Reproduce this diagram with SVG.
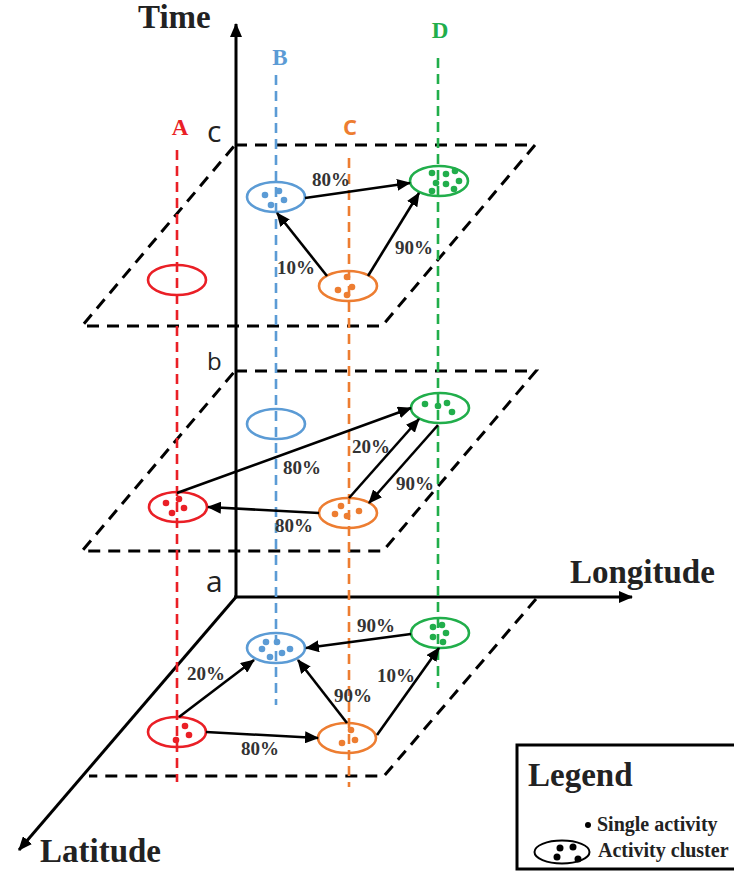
<svg xmlns="http://www.w3.org/2000/svg" width="734" height="880" viewBox="0 0 734 880">
<style>
.axis{stroke:#000;stroke-width:3;fill:none}
.plane{stroke:#000;stroke-width:3;fill:none;stroke-dasharray:12 8}
.track{stroke-width:2.6;fill:none;stroke-dasharray:10 6}
.conn{stroke:#000;stroke-width:2.6;fill:none}
.ell{fill:none;stroke-width:2.6}
.title{font-family:"Liberation Serif",serif;font-weight:bold;font-size:33px;fill:#222}
.tl{font-family:"Liberation Serif",serif;font-weight:bold;font-size:23px}
.pct{font-family:"Liberation Serif",serif;font-weight:bold;font-size:19px;fill:#333}
.lvl{font-family:"Open Sans","Liberation Sans",sans-serif;fill:#222}
.leg{font-family:"Liberation Serif",serif;font-weight:bold;font-size:20px;fill:#222}
.r{stroke:#ea1f26}.rf{fill:#ea1f26}
.b{stroke:#5b9bd5}.bf{fill:#5b9bd5}
.o{stroke:#ed7d31}.of{fill:#ed7d31}
.g{stroke:#21ae4b}.gf{fill:#21ae4b}
</style>
<defs>
<marker id="ah" markerUnits="userSpaceOnUse" markerWidth="14" markerHeight="12" viewBox="0 0 14 12" refX="13" refY="6" orient="auto">
<path d="M0,0 L14,6 L0,12 z" fill="#000"/>
</marker>
</defs>
<rect width="734" height="880" fill="#fff"/>

<g id="planes">
<path class="plane" d="M235,145 L535,145 L382,326 L82,326 Z"/>
<path class="plane" d="M235,371 L536,371 L383,551 L82,551 Z"/>
<path class="plane" d="M536,599 L384,776 L89,776"/>
</g>

<g id="axes">
<line class="axis" x1="236" y1="598" x2="236" y2="24" marker-end="url(#ah)"/>
<line class="axis" x1="234" y1="597" x2="632" y2="597" marker-end="url(#ah)"/>
<line class="axis" x1="236" y1="597" x2="19" y2="850" marker-end="url(#ah)"/>
<text class="title" x="138" y="28">Time</text>
<text class="title" x="570" y="583">Longitude</text>
<text class="title" x="40" y="862">Latitude</text>
<text class="lvl" x="207" y="142" font-size="30">c</text>
<text class="lvl" x="207" y="370" font-size="24">b</text>
<text class="lvl" x="206" y="592" font-size="30">a</text>
</g>

<g id="tracks">
<line class="track r" x1="177" y1="150" x2="177" y2="782"/>
<line class="track b" x1="276" y1="75" x2="276" y2="705"/>
<line class="track o" x1="349" y1="158" x2="349" y2="787"/>
<line class="track g" x1="438" y1="58" x2="438" y2="688"/>
<text class="tl rf" x="180" y="135" text-anchor="middle">A</text>
<text class="tl bf" x="280" y="65" text-anchor="middle">B</text>
<text x="350" y="135" text-anchor="middle" font-family="Open Sans, Liberation Sans, sans-serif" font-weight="bold" font-size="22" fill="#ed7d31">C</text>
<text class="tl gf" x="440" y="38" text-anchor="middle">D</text>
</g>

<!-- layer c -->
<g id="c-A"><ellipse class="ell r" cx="177" cy="280" rx="29" ry="15"/></g>
<g id="c-B"><ellipse class="ell b" cx="276" cy="197" rx="29" ry="15"/>
<g class="bf"><circle cx="265" cy="195" r="3.3"/><circle cx="279" cy="191" r="3.3"/><circle cx="284" cy="200" r="3.3"/><circle cx="271" cy="205" r="3.3"/></g></g>
<g id="c-C"><ellipse class="ell o" cx="348" cy="286" rx="29" ry="15"/>
<g class="of"><circle cx="347" cy="277" r="3.3"/><circle cx="352" cy="287" r="3.3"/><circle cx="338" cy="290" r="3.3"/><circle cx="347" cy="295" r="3.3"/></g></g>
<g id="c-D"><ellipse class="ell g" cx="439" cy="181" rx="29" ry="15"/>
<g class="gf"><circle cx="432" cy="173" r="3.3"/><circle cx="446" cy="174" r="3.3"/><circle cx="455" cy="171" r="3.3"/><circle cx="436" cy="183" r="3.3"/><circle cx="446" cy="184" r="3.3"/><circle cx="459" cy="181" r="3.3"/><circle cx="432" cy="191" r="3.3"/><circle cx="454" cy="189" r="3.3"/></g></g>

<!-- layer b -->
<g id="b-A"><ellipse class="ell r" cx="178" cy="507" rx="29" ry="15"/>
<g class="rf"><circle cx="166" cy="503" r="3.3"/><circle cx="179" cy="499" r="3.3"/><circle cx="184" cy="508" r="3.3"/><circle cx="172" cy="513" r="3.3"/></g></g>
<g id="b-B"><ellipse class="ell b" cx="276" cy="424" rx="29" ry="15"/></g>
<g id="b-C"><ellipse class="ell o" cx="348" cy="513" rx="29" ry="15"/>
<g class="of"><circle cx="341" cy="506" r="3.3"/><circle cx="359" cy="511" r="3.3"/><circle cx="335" cy="514" r="3.3"/><circle cx="347" cy="516" r="3.3"/></g></g>
<g id="b-D"><ellipse class="ell g" cx="440" cy="408" rx="29" ry="15"/>
<g class="gf"><circle cx="425" cy="404" r="3.3"/><circle cx="438" cy="406" r="3.3"/><circle cx="447" cy="403" r="3.3"/><circle cx="452" cy="412" r="3.3"/></g></g>

<!-- layer a -->
<g id="a-A"><ellipse class="ell r" cx="177" cy="732" rx="29" ry="15"/>
<g class="rf"><circle cx="185" cy="726" r="3.3"/><circle cx="189" cy="735" r="3.3"/><circle cx="176" cy="740" r="3.3"/></g></g>
<g id="a-B"><ellipse class="ell b" cx="276" cy="648" rx="29" ry="15"/>
<g class="bf"><circle cx="266" cy="642" r="3.3"/><circle cx="277" cy="642" r="3.3"/><circle cx="262" cy="649" r="3.3"/><circle cx="282" cy="653" r="3.3"/><circle cx="290" cy="649" r="3.3"/><circle cx="270" cy="657" r="3.3"/></g></g>
<g id="a-C"><ellipse class="ell o" cx="347" cy="738" rx="29" ry="15"/>
<g class="of"><circle cx="351" cy="730" r="3.3"/><circle cx="342" cy="743" r="3.3"/><circle cx="355" cy="740" r="3.3"/></g></g>
<g id="a-D"><ellipse class="ell g" cx="440" cy="633" rx="29" ry="15"/>
<g class="gf"><circle cx="433" cy="627" r="3.3"/><circle cx="442" cy="625" r="3.3"/><circle cx="446" cy="633" r="3.3"/><circle cx="433" cy="637" r="3.3"/><circle cx="443" cy="642" r="3.3"/></g></g>

<g id="connectors">
<line class="conn" x1="305" y1="198" x2="410" y2="183" marker-end="url(#ah)"/>
<line class="conn" x1="327" y1="276" x2="277" y2="213" marker-end="url(#ah)"/>
<line class="conn" x1="368" y1="276" x2="419" y2="193" marker-end="url(#ah)"/>
<line class="conn" x1="177" y1="493" x2="411" y2="408" marker-end="url(#ah)"/>
<line class="conn" x1="319" y1="513" x2="208" y2="507" marker-end="url(#ah)"/>
<line class="conn" x1="349" y1="498" x2="419" y2="419" marker-end="url(#ah)"/>
<line class="conn" x1="438" y1="425" x2="369" y2="503" marker-end="url(#ah)"/>
<line class="conn" x1="179" y1="717" x2="254" y2="660" marker-end="url(#ah)"/>
<line class="conn" x1="206" y1="732" x2="318" y2="738" marker-end="url(#ah)"/>
<line class="conn" x1="347" y1="723" x2="298" y2="660" marker-end="url(#ah)"/>
<line class="conn" x1="377" y1="735" x2="439" y2="648" marker-end="url(#ah)"/>
<line class="conn" x1="411" y1="634" x2="306" y2="648" marker-end="url(#ah)"/>
</g>

<g id="labels">
<text class="pct" x="312" y="186">80%</text>
<text class="pct" x="277" y="274">10%</text>
<text class="pct" x="395" y="254">90%</text>
<text class="pct" x="283" y="474">80%</text>
<text class="pct" x="275" y="532">80%</text>
<text class="pct" x="352" y="453">20%</text>
<text class="pct" x="396" y="490">90%</text>
<text class="pct" x="187" y="680">20%</text>
<text class="pct" x="241" y="755">80%</text>
<text class="pct" x="334" y="702">90%</text>
<text class="pct" x="377" y="682">10%</text>
<text class="pct" x="357" y="632">90%</text>
</g>

<g id="legend">
<rect x="517" y="745" width="240" height="124" fill="#fff" stroke="#000" stroke-width="3"/>
<text class="title" x="528" y="786" font-size="32">Legend</text>
<circle cx="588" cy="825" r="3" fill="#000"/>
<text class="leg" x="597" y="831">Single activity</text>
<ellipse cx="562" cy="852" rx="27.5" ry="11.5" fill="none" stroke="#000" stroke-width="2"/>
<circle cx="560" cy="848" r="3.5" fill="#000"/><circle cx="573" cy="847" r="3.5" fill="#000"/><circle cx="557" cy="857" r="3.5" fill="#000"/><circle cx="578" cy="859" r="3.5" fill="#000"/>
<text class="leg" x="598" y="857">Activity cluster</text>
</g>
</svg>
